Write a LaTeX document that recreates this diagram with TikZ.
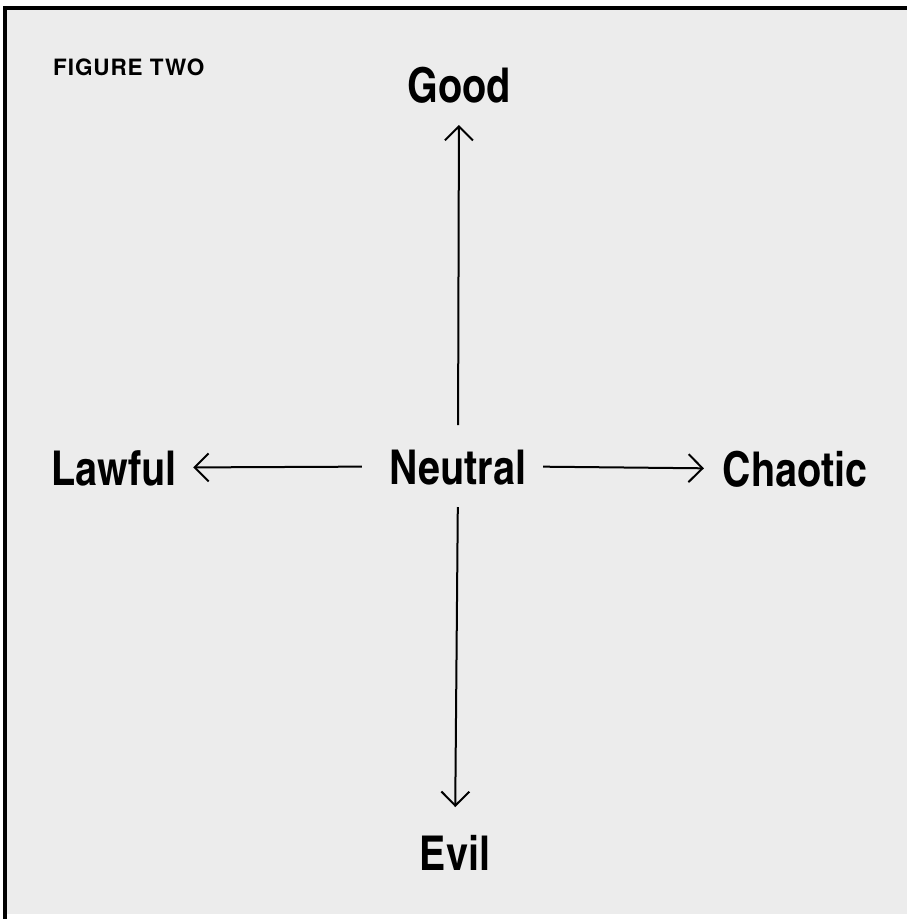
\documentclass[tikz,border=0pt]{standalone}
\usepackage{fontspec}
\setmainfont{TeX Gyre Heros}
\newfontfamily\condfont{texgyreheroscn-bold}[Extension=.otf]
\usetikzlibrary{arrows.meta}
\usetikzlibrary{calc}
\definecolor{paper}{RGB}{236,236,236}
\tikzset{
word/.style = {font=\condfont\fontsize{48}{48}\selectfont,
               inner sep=0pt, outer sep=0pt,
               text height=35pt, text depth=0pt, anchor=base},
arm/.style = {line width=2pt, -{Straight Barb[length=14pt,width=28pt]}}
}
\newcommand{\pole}[3]{\node[word] (#1) at (#2) {#3};}
\newcommand{\arm}[4]{\draw[arm, shorten <=#3, shorten >=#4] (#1) -- (#2);}

\begin{document}
\begin{tikzpicture}[x=1pt, y=-1pt]
    % page and frame
    \useasboundingbox (0,0) rectangle (907,919);
    \fill[white] (0,0) rectangle (907,919);
    \fill[paper] (5,8) rectangle (907,914);
    \draw[line width=3.5pt] (5,919) -- (5,8) -- (907,8);
    \node[font=\bfseries\fontsize{22.5}{22.5}\selectfont\addfontfeatures{LetterSpace=4},
          anchor=base west, inner sep=0pt] (title) at (53,75) {FIGURE TWO};

    \pole{neutral}{458,484}{Neutral};
    \pole{good}{459,102}{Good};
    \pole{evil}{455,870}{Evil};
    \pole{lawful}{114,485}{Lawful};
    \pole{chaotic}{795,486}{Chaotic};
    \arm{neutral.north}{good.south}{24pt}{23pt};
    \arm{neutral.south}{evil.north}{23pt}{28pt};
    \arm{neutral.west}{lawful.east}{28pt}{17pt};
    \arm{neutral.east}{chaotic.west}{17pt}{19pt};
\end{tikzpicture}
\end{document}
